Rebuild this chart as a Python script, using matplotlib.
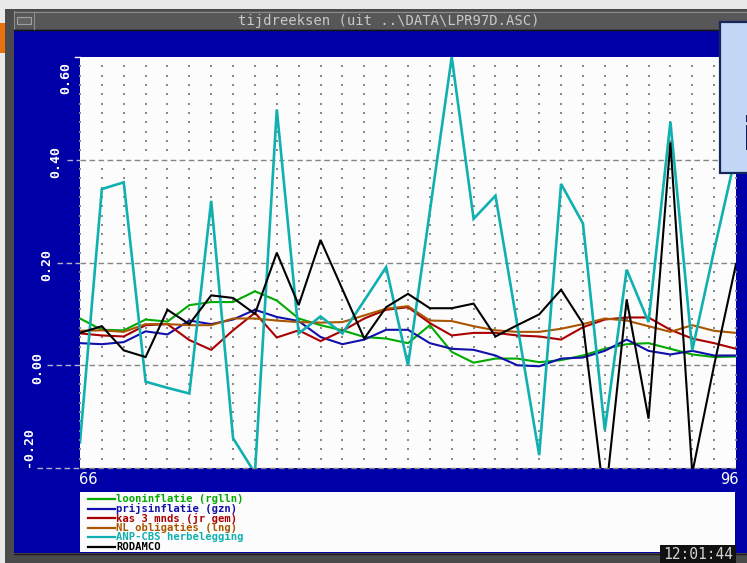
import matplotlib
matplotlib.use("Agg")
import matplotlib.pyplot as plt
import matplotlib.transforms as mtransforms
from matplotlib.patches import Rectangle
from matplotlib.lines import Line2D
import numpy as np

# ---- data: yearly series 1966-1996 ----
years = list(range(66, 97))

looninflatie = [0.091, 0.069, 0.068, 0.089, 0.085, 0.117, 0.123, 0.123, 0.144, 0.126,
                0.091, 0.078, 0.068, 0.055, 0.052, 0.043, 0.078, 0.026, 0.005, 0.013,
                0.013, 0.006, 0.010, 0.019, 0.032, 0.041, 0.043, 0.032, 0.021, 0.016, 0.017]
prijsinflatie = [0.043, 0.041, 0.045, 0.066, 0.060, 0.087, 0.080, 0.089, 0.108, 0.094,
                 0.086, 0.055, 0.041, 0.050, 0.069, 0.069, 0.043, 0.032, 0.030, 0.019,
                 0.000, -0.002, 0.013, 0.015, 0.028, 0.050, 0.028, 0.021, 0.028, 0.019, 0.019]
kas_3_mnds = [0.062, 0.058, 0.056, 0.078, 0.080, 0.049, 0.030, 0.068, 0.102, 0.054,
              0.068, 0.047, 0.067, 0.091, 0.108, 0.113, 0.082, 0.058, 0.063, 0.063,
              0.058, 0.056, 0.050, 0.074, 0.089, 0.093, 0.093, 0.069, 0.052, 0.043, 0.032]
nl_obligaties = [0.067, 0.068, 0.065, 0.080, 0.080, 0.078, 0.078, 0.091, 0.091, 0.087,
                 0.084, 0.083, 0.084, 0.097, 0.110, 0.115, 0.087, 0.086, 0.076, 0.068,
                 0.065, 0.065, 0.071, 0.080, 0.091, 0.087, 0.076, 0.065, 0.078, 0.067, 0.063]
anp_cbs = [-0.150, 0.343, 0.356, -0.032, -0.044, -0.055, 0.320, -0.142, -0.210, 0.498,
           0.062, 0.095, 0.062, 0.126, 0.191, 0.000, 0.300, 0.600, 0.285, 0.330,
           0.078, -0.175, 0.353, 0.276, -0.126, 0.186, 0.084, 0.474, 0.029, 0.224, 0.412]
rodamco = [0.063, 0.076, 0.029, 0.016, 0.108, 0.080, 0.136, 0.131, 0.100, 0.219,
           0.117, 0.244, 0.148, 0.052, 0.113, 0.139, 0.111, 0.111, 0.120, 0.056,
           0.078, 0.099, 0.147, 0.081, -0.270, 0.128, -0.104, 0.434, -0.210, 0.000, 0.197]

series_labels = ["looninflatie (rglln)", "prijsinflatie (gzn)", "kas 3 mnds (jr gem)",
                 "NL obligaties (lng)", "ANP-CBS herbelegging", "RODAMCO"]
series_values = [looninflatie, prijsinflatie, kas_3_mnds, nl_obligaties, anp_cbs, rodamco]
series_colors = ["#00aa00", "#1010aa", "#aa0000", "#aa5500", "#10b0b0", "#000000"]

y_ticks = [-0.2, 0.0, 0.2, 0.4, 0.6]
y_tick_labels = ["-0.20", "0.00", "0.20", "0.40", "0.60"]
x_labels = ["66", "96"]
window_title = "tijdreeksen (uit ..\\DATA\\LPR97D.ASC)"
clock_text = "12:01:44"

# ---- figure & window chrome ----
W, H = 747, 563
fig = plt.figure(figsize=(W / 100, H / 100), dpi=100)
fig.patch.set_facecolor("#e9e9ea")

MONO = "DejaVu Sans Mono"
DOS_BLUE = "#0000a8"


def rect(x0, y0, x1, y1, color, z=-10, ec="none", lw=0):
    r = Rectangle((x0 / W, 1 - y1 / H), (x1 - x0) / W, (y1 - y0) / H,
                  transform=fig.transFigure, facecolor=color, edgecolor=ec,
                  linewidth=lw, zorder=z)
    fig.add_artist(r)
    return r


def hline_px(x0, x1, y, color, lw=1.0, z=-5, ls="-"):
    fig.add_artist(Line2D([x0 / W, x1 / W], [1 - y / H, 1 - y / H], transform=fig.transFigure,
                          color=color, lw=lw, zorder=z, ls=ls))


def vline_px(x, y0, y1, color, lw=1.0, z=-5):
    fig.add_artist(Line2D([x / W, x / W], [1 - y0 / H, 1 - y1 / H], transform=fig.transFigure,
                          color=color, lw=lw, zorder=z))


# background desktop bits
rect(0, 23, 5, 53, "#e8700f", z=-12)
# window frame
rect(5, 9, W, H, "#4b4b4b", z=-11)
# title bar
rect(14, 11, W, 29, "#575757")
hline_px(14, W, 11.5, "#8c8c8c", lw=0.8)
vline_px(14.5, 11, 29, "#8c8c8c", lw=0.8)
hline_px(14, W, 29.5, "#151515", lw=1.0)
rect(17, 17, 31, 24, "#626262", ec="#a0a0a0", lw=0.8, z=-4)
vline_px(33.5, 12, 29, "#8c8c8c", lw=0.8)
fig.text(389 / W, 1 - 20.5 / H, window_title, ha="center", va="center",
         family=MONO, fontsize=10, color="#c8c8c8")
# blue client area
rect(14, 30, W, 553, DOS_BLUE)
hline_px(14, W, 553.5, "#1c1c1c", lw=1.0)

# ---- plot area ----
ax = fig.add_axes([80 / W, 1 - 468 / H, 656 / W, 411 / H])
ax.set_zorder(1)
ax.set_facecolor("#fcfcfc")
ax.set_xlim(years[0], years[-1])
ax.set_ylim(y_ticks[0], y_ticks[-1])
for s in ax.spines.values():
    s.set_visible(False)
ax.set_xticks([])
ax.set_yticks([])

# dotted grid: one column per year, eleven rows per 0.2 band
band = 0.2 / 11
dot_rows = [y_ticks[0] + k * band for k in range(1, 45) if k % 11 != 0]
gx, gy = np.meshgrid(years, dot_rows)
ax.scatter(gx.ravel(), gy.ravel(), s=0.9, marker="s", color="#8a8a8a",
           linewidths=0, zorder=1, clip_on=False)

# dashed reference lines
for yv in y_ticks[:-1]:
    ax.axhline(yv, color="#858585", lw=1.0, ls=(0, (4, 2.5)), zorder=2, clip_on=False)

# series
for vals, col, lab in zip(series_values, series_colors, series_labels):
    lw = 1.9 if lab.startswith("ANP") else 1.5
    ax.plot(years, vals, color=col, lw=lw, zorder=3, solid_joinstyle="miter")

# dashes running left into the label column
blend = mtransforms.blended_transform_factory(fig.transFigure, ax.transData)
dash_start = {-0.2: 37, 0.0: 47, 0.2: 57, 0.4: 67}
for yv, xs in dash_start.items():
    fig.add_artist(Line2D([xs / W, 80 / W], [yv, yv], transform=blend, color="#b4b4c8",
                          lw=1.0, ls=(0, (4, 2.5)), zorder=2))
fig.add_artist(Line2D([75 / W, 80 / W], [0.6, 0.6], transform=blend, color="#ffffff",
                      lw=1.0, zorder=2))

# rotated y labels, stepping down the margin
label_pos = {"0.60": (66, 78), "0.40": (56, 162), "0.20": (47, 265),
             "0.00": (38, 368), "-0.20": (29, 447)}
for lab in y_tick_labels:
    px, py = label_pos[lab]
    fig.text(px / W, 1 - py / H, lab, rotation=90, ha="center", va="center",
             family=MONO, fontweight="bold", fontsize=9.5, color="white")

# x end labels
fig.text(88 / W, 1 - 479 / H, x_labels[0], ha="center", va="center",
         family="DejaVu Sans", fontsize=10.5, color="white")
fig.text(729 / W, 1 - 479 / H, x_labels[1], ha="center", va="center",
         family="DejaVu Sans", fontsize=10.5, color="white")

# ---- legend panel ----
rect(80, 492, 735, 552, "#fcfcfc", z=-3)
row_y = [499.0, 508.5, 518.0, 527.5, 537.0, 546.5]
for ry, col, lab in zip(row_y, series_colors, series_labels):
    hline_px(88, 115, ry, col, lw=1.6, z=2)
    fig.text(116 / W, 1 - ry / H, lab, ha="left", va="center", family=MONO,
             fontweight="bold", fontsize=7.6, color=col, zorder=3)

# clock
rect(660, 545, 736, H, "#111111", z=5)
fig.text(698 / W, 1 - 554.5 / H, clock_text, ha="center", va="center", family=MONO,
         fontsize=10.5, color="#d4d4d4", zorder=6)

# info balloon at the right edge
rect(720, 22, W + 4, 173, "#c4d6f6", z=20, ec="#15285a", lw=1.6)
fig.text(742 / W, 1 - 150 / H, "i", ha="left", va="baseline", family="DejaVu Sans",
         fontweight="bold", fontsize=34, color="#0c1c58", zorder=21)

fig.savefig("out.png", dpi=100, facecolor=fig.get_facecolor())
